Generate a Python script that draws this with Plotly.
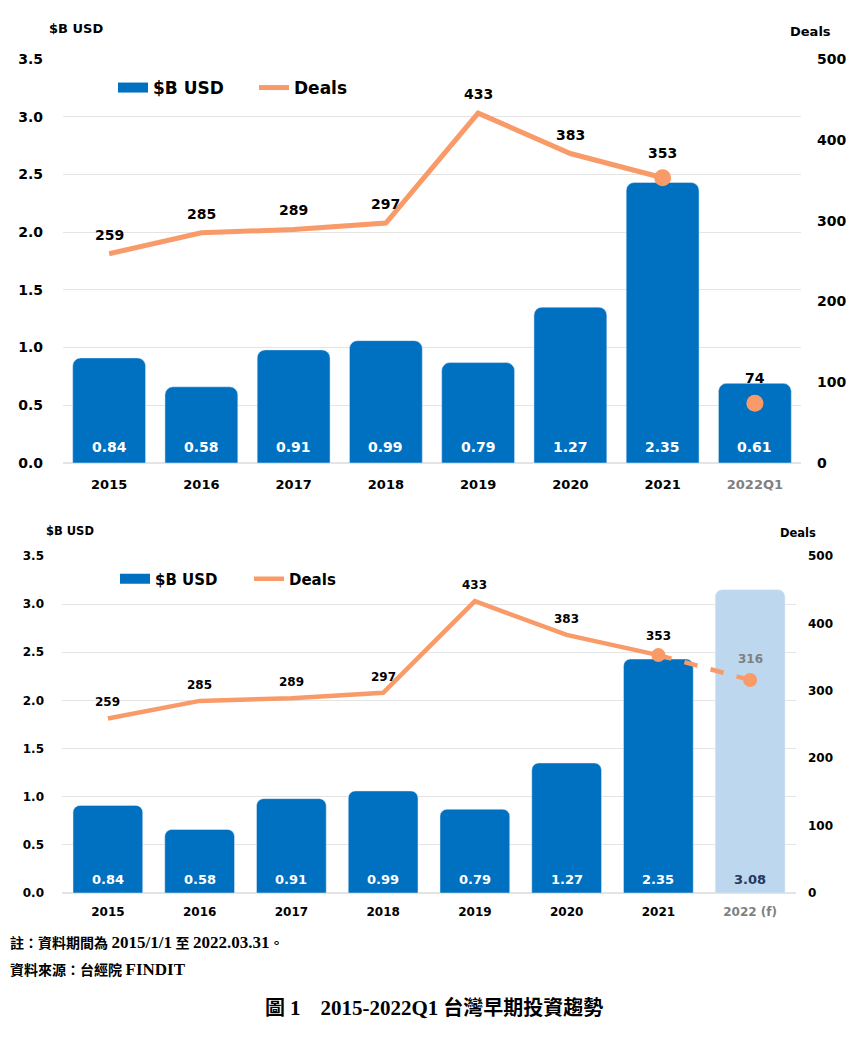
import plotly.graph_objects as go

# categories
years_top = ['2015', '2016', '2017', '2018', '2019', '2020', '2021', '2022Q1']
years_bot = ['2015', '2016', '2017', '2018', '2019', '2020', '2021', '2022 (f)']

# $B USD, printed labels and bar heights as drawn in the picture
usd_label_top = ['0.84', '0.58', '0.91', '0.99', '0.79', '1.27', '2.35', '0.61']
usd_bar_top = [0.91, 0.66, 0.98, 1.06, 0.87, 1.35, 2.43, 0.69]
usd_label_bot = ['0.84', '0.58', '0.91', '0.99', '0.79', '1.27', '2.35', '3.08']
usd_bar_bot = [0.91, 0.66, 0.98, 1.06, 0.87, 1.35, 2.43, 3.15]

# deals
deals = [259, 285, 289, 297, 433, 383, 353]
deals_q1 = 74
deals_f = 316

BLUE = '#0070C0'
LIGHT = '#BDD7EE'
ORANGE = '#F99A69'
GRID = '#E4E4E4'
WIDE = 'DejaVu Sans'
SERIF = 'Liberation Serif, Noto Sans CJK TC'

W = 865.0
H = 1039.0
OFF = 8  # page margin around the plot div


def px(x):
    return (x - OFF) / W


def py(y):
    return 1 - (y - OFF) / H


def bold(size, color='black'):
    return dict(family=WIDE, size=size, color=color, weight='bold')


fig = go.Figure()

# ---------- top chart ----------
fig.add_trace(go.Bar(x=years_top, y=usd_bar_top, name='$B USD', marker_color=BLUE,
                     marker_cornerradius=8, width=0.79, xaxis='x', yaxis='y',
                     showlegend=False, hoverinfo='skip'))
fig.add_trace(go.Scatter(x=[None], y=[None], name='$B USD', mode='lines',
                         line=dict(color=BLUE, width=16), xaxis='x', yaxis='y', legend='legend'))
fig.add_trace(go.Scatter(x=years_top[:7], y=deals, name='Deals', mode='lines',
                         line=dict(color=ORANGE, width=5), xaxis='x', yaxis='y2',
                         legend='legend'))
fig.add_trace(go.Scatter(x=[years_top[6], years_top[7]], y=[deals[6], deals_q1], mode='markers',
                         marker=dict(color=ORANGE, size=17), xaxis='x', yaxis='y2',
                         showlegend=False))

# ---------- bottom chart ----------
bot_colors = [BLUE] * 7 + [LIGHT]
fig.add_trace(go.Bar(x=years_bot, y=usd_bar_bot, name='$B USD', marker_color=bot_colors,
                     marker_cornerradius=7, width=0.76, xaxis='x2', yaxis='y3',
                     showlegend=False, hoverinfo='skip'))
fig.add_trace(go.Scatter(x=[None], y=[None], name='$B USD', mode='lines',
                         line=dict(color=BLUE, width=14), xaxis='x2', yaxis='y3', legend='legend2'))
fig.add_trace(go.Scatter(x=years_bot[:7], y=deals, name='Deals', mode='lines',
                         line=dict(color=ORANGE, width=4.5), xaxis='x2', yaxis='y4',
                         legend='legend2'))
fig.add_trace(go.Scatter(x=[years_bot[6], years_bot[7]], y=[deals[6], deals_f], mode='lines+markers',
                         line=dict(color=ORANGE, width=4.5, dash='dash'),
                         marker=dict(color=ORANGE, size=14), xaxis='x2', yaxis='y4',
                         showlegend=False))

ann = []
# bar value labels (x given as category index)
for i, t in enumerate(usd_label_top):
    ann.append(dict(x=i, y=0, xref='x', yref='y', text=t, showarrow=False, yanchor='bottom',
                    yshift=6, font=bold(14, 'white')))
for i, t in enumerate(usd_label_bot):
    c = '#1F3864' if i == 7 else 'white'
    ann.append(dict(x=i, y=0, xref='x2', yref='y3', text=t, showarrow=False, yanchor='bottom',
                    yshift=4, font=bold(13, c)))
# deal labels
for i, d in enumerate(deals):
    ann.append(dict(x=i, y=d, xref='x', yref='y2', text=str(d), showarrow=False,
                    yshift=25 if i == 6 else 19, font=bold(14)))
ann.append(dict(x=7, y=deals_q1, xref='x', yref='y2', text=str(deals_q1), showarrow=False,
                yshift=25, font=bold(14)))
for i, d in enumerate(deals):
    ann.append(dict(x=i, y=d, xref='x2', yref='y4', text=str(d), showarrow=False,
                    yshift=19 if i == 6 else 16, font=bold(12)))
ann.append(dict(x=7, y=deals_f, xref='x2', yref='y4', text=str(deals_f), showarrow=False,
                yshift=21, font=bold(12, '#808080')))

# axis titles
ann += [
    dict(x=px(76), y=py(28), xref='paper', yref='paper', text='$B USD', showarrow=False,
         xanchor='center', yanchor='middle', font=bold(13)),
    dict(x=px(810), y=py(31), xref='paper', yref='paper', text='Deals', showarrow=False,
         xanchor='center', yanchor='middle', font=bold(13)),
    dict(x=px(70), y=py(531), xref='paper', yref='paper', text='$B USD', showarrow=False,
         xanchor='center', yanchor='middle', font=bold(11.5)),
    dict(x=px(798), y=py(533), xref='paper', yref='paper', text='Deals', showarrow=False,
         xanchor='center', yanchor='middle', font=bold(11.5)),
]

# notes and caption
def lat(s, size):
    return '<span style="font-size:%dpx">%s</span>' % (size, s)


note1 = '<b>註：資料期間為 ' + lat('2015/1/1', 17) + ' 至 ' + lat('2022.03.31', 17) + '。</b>'
note2 = '<b>資料來源：台經院 ' + lat('FINDIT', 17) + '</b>'
caption = '<b>圖 ' + lat('1', 21) + '　' + lat('2015-2022Q1', 21) + ' 台灣早期投資趨勢</b>'
ann += [
    dict(x=0, y=py(942), xref='paper', yref='paper', text=note1,
         showarrow=False, xanchor='left', yanchor='middle', font=dict(family=SERIF, size=14, color='black')),
    dict(x=0, y=py(969), xref='paper', yref='paper', text=note2,
         showarrow=False, xanchor='left', yanchor='middle', font=dict(family=SERIF, size=14, color='black')),
    dict(x=px(434), y=py(1008), xref='paper', yref='paper', text=caption,
         showarrow=False, xanchor='center', yanchor='middle', font=dict(family=SERIF, size=20, color='black')),
]

tick_top = years_top[:7] + ['<span style="color:#808080">2022Q1</span>']
tick_bot = years_bot[:7] + ['<span style="color:#808080">2022 (f)</span>']

fig.update_layout(
    width=865, height=1039,
    margin=dict(l=0, r=0, t=0, b=0),
    paper_bgcolor='white', plot_bgcolor='white',
    annotations=ann,
    xaxis=dict(domain=[px(63), px(801)], anchor='y', type='category', range=[-0.5, 7.5],
               tickvals=years_top, ticktext=tick_top, automargin=False,
               showgrid=False, zeroline=False, showline=False, ticks='', ticklabelstandoff=12,
               tickangle=0, tickfont=bold(13)),
    yaxis=dict(domain=[py(463), py(59)], range=[0, 3.5], dtick=0.5, tickformat='.1f',
               automargin=False,
               showgrid=True, gridcolor=GRID, zeroline=True, zerolinecolor=GRID, ticklabelstandoff=19,
               tickfont=bold(14)),
    yaxis2=dict(overlaying='y', side='right', range=[0, 500], dtick=100, showgrid=False, zeroline=False,
                anchor='x', ticklabelstandoff=15, automargin=False, tickfont=bold(14)),
    xaxis2=dict(domain=[px(62), px(796)], anchor='y3', type='category', range=[-0.5, 7.5],
                tickvals=years_bot, ticktext=tick_bot, automargin=False,
                showgrid=False, zeroline=False, showline=False, ticks='', ticklabelstandoff=10,
                tickangle=0, tickfont=bold(12)),
    yaxis3=dict(domain=[py(893), py(556)], range=[0, 3.5], dtick=0.5, tickformat='.1f', anchor='x2',
                automargin=False,
                showgrid=True, gridcolor=GRID, zeroline=True, zerolinecolor=GRID, ticklabelstandoff=17,
                tickfont=bold(12)),
    yaxis4=dict(overlaying='y3', side='right', range=[0, 500], dtick=100, showgrid=False, zeroline=False,
                anchor='x2', ticklabelstandoff=11, automargin=False, tickfont=bold(12)),
    legend=dict(orientation='h', x=105 / W, y=py(88), xanchor='left', yanchor='middle',
                entrywidth=96, entrywidthmode='pixels', bgcolor='rgba(0,0,0,0)',
                font=bold(17)),
    legend2=dict(orientation='h', x=107 / W, y=py(579), xanchor='left', yanchor='middle',
                 entrywidth=89, entrywidthmode='pixels', bgcolor='rgba(0,0,0,0)',
                 font=bold(15)),
    showlegend=True,
)

fig.write_html("out.html")
